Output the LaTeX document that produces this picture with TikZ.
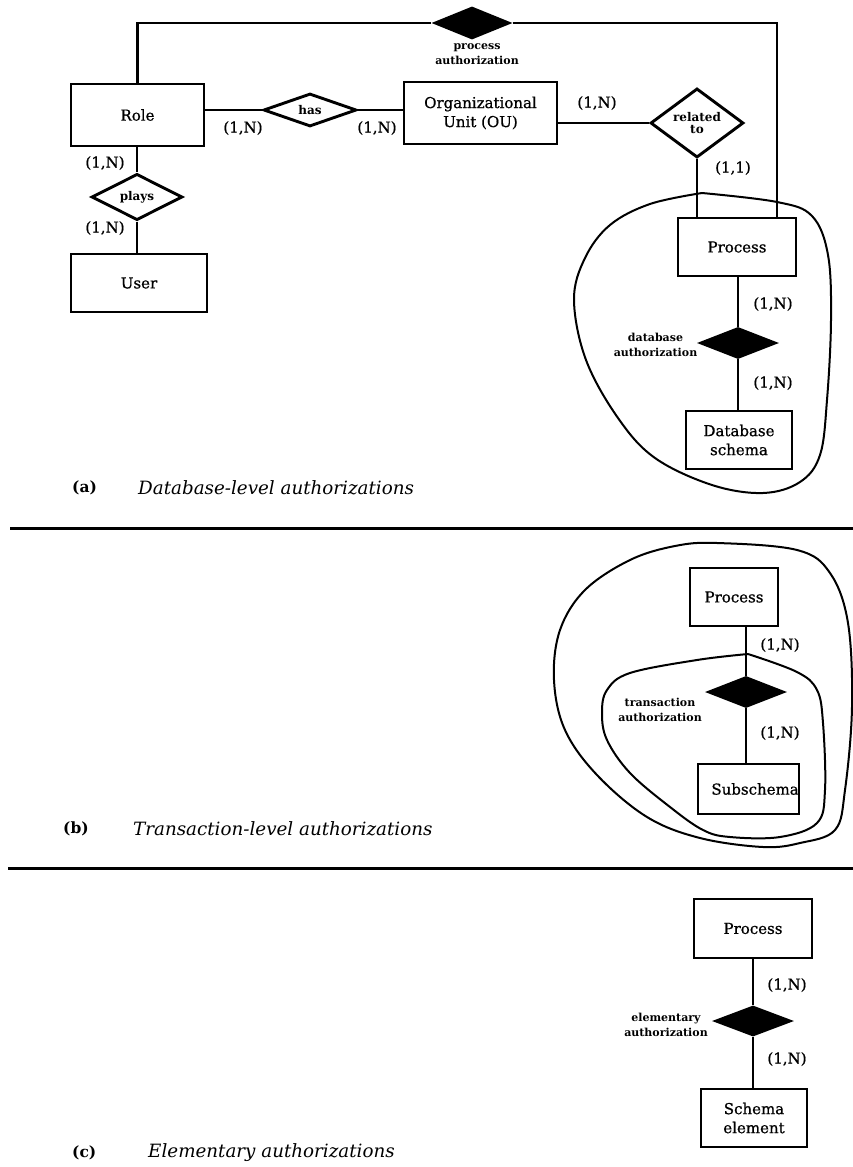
\documentclass[tikz,border=0pt]{standalone}
\usepackage{fontspec}
\setmainfont{DejaVu Serif}
\newfontfamily\heavyserif{DejaVu Serif}[FakeBold=0.8]
\usetikzlibrary{shapes.geometric,calc}

\begin{document}
\begin{tikzpicture}[x=1pt,y=-1pt,
  entity/.style={draw, line width=2.9pt, inner sep=0pt, align=center,
    font=\heavyserif\fontsize{15}{19}\selectfont},
  rel/.style={diamond, draw, line width=2.9pt, inner sep=0pt, align=center,
    font=\bfseries\fontsize{12}{12}\selectfont},
  authrel/.style={diamond, fill=black, inner sep=0pt},
  card/.style={inner sep=0pt, font=\heavyserif\fontsize{15}{18}\selectfont},
  alabel/.style={inner sep=0pt, align=center, font=\bfseries\fontsize{11}{15}\selectfont},
  conn/.style={line width=2.9pt},
  blob/.style={line width=2pt, line join=round},
  sep/.style={line width=3pt},
  tag/.style={inner sep=0pt, anchor=west, font=\bfseries\fontsize{15.5}{18}\selectfont},
  caption/.style={inner sep=0pt, anchor=west, font=\itshape\fontsize{18.3}{20}\selectfont}
]
\useasboundingbox (0,0) rectangle (853,1167);

% ---------- (a) database-level authorizations ----------
\node[entity, minimum width=133, minimum height=62] (role) at (137.5,115) {Role};
\node[entity, minimum width=136, minimum height=58] (user) at (139,283) {User};
\node[rel, minimum width=91, minimum height=30] (plays) at (137,197) {plays};
\node[rel, minimum width=93, minimum height=33] (has) at (310,110) {has};
\node[entity, minimum width=153, minimum height=62] (ou) at (480.5,113) {Organizational\\Unit (OU)};
\node[rel, minimum width=93, minimum height=44] (related) at (697,123) {related\\to};
\node[authrel, minimum width=81, minimum height=33] (pa) at (472,23) {};
\node[alabel] (palab) at (477,54.5) {process\\authorization};
\node[entity, minimum width=118, minimum height=58] (procA) at (737,247) {Process};
\node[authrel, minimum width=82, minimum height=32] (da) at (738,343) {};
\node[alabel] (dalab) at (655.5,345) {database\\authorization};
\node[entity, minimum width=106, minimum height=58] (db) at (739,440) {Database\\schema};

\coordinate (pr) at (777,217);

\draw[conn] (role.east |- has.west) -- (has.west);
\draw[conn] (has.east) -- (has.east -| ou.west);
\draw[conn] (role.south -| plays.north) -- (plays.north);
\draw[conn] (plays.south) -- (plays.south |- user.north);
\draw[conn] (ou.east |- related.west) -- (related.west);
\draw[conn] (related.south) -- (related.south |- procA.north);
\draw[conn] (role.north) |- (pa.west);
\draw[conn] (pa.east) -| (pr);
\draw[conn] (procA.south -| da.north) -- (da.north);
\draw[conn] (da.south) -- (da.south |- db.north);

\node[card] (c1) at (105,163) {(1,N)};
\node[card] (c2) at (105,228) {(1,N)};
\node[card] (c3) at (243,128) {(1,N)};
\node[card] (c4) at (377,128) {(1,N)};
\node[card] (c5) at (597,103) {(1,N)};
\node[card] (c6) at (733,168) {(1,1)};
\node[card] (c7) at (773,304) {(1,N)};
\node[card] (c8) at (773,383) {(1,N)};

\draw[blob] plot[smooth, tension=0.6] coordinates {(702,193) (777,202) (812,216) (828,255)
  (831,320) (827,400) (820,455) (800,482) (763,493) (712,485) (655,458) (618,418)
  (586,360) (574,300) (585,258) (610,225) (650,204) (702,193)};

\node[tag] (tagA) at (72,488) {(a)};
\node[caption] (capA) at (138,488) {Database-level authorizations};
\draw[sep] (10,528) -- (853,528);

% ---------- (b) transaction-level authorizations ----------
\node[entity, minimum width=88, minimum height=58] (procB) at (734,597) {Process};
\node[authrel, minimum width=82, minimum height=32] (ta) at (746,692) {};
\node[alabel] (talab) at (660,710) {transaction\\authorization};
\node[entity, minimum width=101, minimum height=50] (sub) at (748.5,789) {};
\node[inner sep=1.5pt, anchor=east, font=\heavyserif\fontsize{15}{19}\selectfont] (subtxt) at (sub.east) {Subschema};

\draw[conn] (procB.south -| ta.north) -- (ta.north);
\draw[conn] (ta.south) -- (ta.south |- sub.north);

\node[card] (c9) at (780,645) {(1,N)};
\node[card] (c10) at (780,733) {(1,N)};

\draw[blob] plot[smooth cycle, tension=0.6] coordinates {(717,543) (797,550) (830,573)
  (848,623) (852,707) (845,790) (835,830) (800,843) (763,847) (700,838) (647,817)
  (597,775) (565,730) (554,680) (560,630) (585,590) (630,560) (675,546)};
\draw[blob] plot[smooth, tension=0.6] coordinates {(748,654) (797,672) (817,690) (823,723)
  (825,790) (817,823) (780,837) (730,837) (703,830) (670,807) (630,773) (607,740)
  (602,713) (607,690) (630,673) (697,660) (748,654)};

\node[tag] (tagB) at (63,829) {(b)};
\node[caption] (capB) at (133,829) {Transaction-level authorizations};
\draw[sep] (8,868) -- (853,868);

% ---------- (c) elementary authorizations ----------
\node[entity, minimum width=118, minimum height=59] (procC) at (753,928.5) {Process};
\node[authrel, minimum width=82, minimum height=31] (ea) at (753,1021) {};
\node[alabel] (ealab) at (666,1025) {elementary\\authorization};
\node[entity, minimum width=106, minimum height=58] (schel) at (754,1118) {Schema\\element};

\draw[conn] (procC.south -| ea.north) -- (ea.north);
\draw[conn] (ea.south) -- (ea.south |- schel.north);

\node[card] (c11) at (787,985) {(1,N)};
\node[card] (c12) at (787,1059) {(1,N)};

\node[tag] (tagC) at (72,1153) {(c)};
\node[caption] (capC) at (148,1153) {Elementary authorizations};
\end{tikzpicture}
\end{document}
